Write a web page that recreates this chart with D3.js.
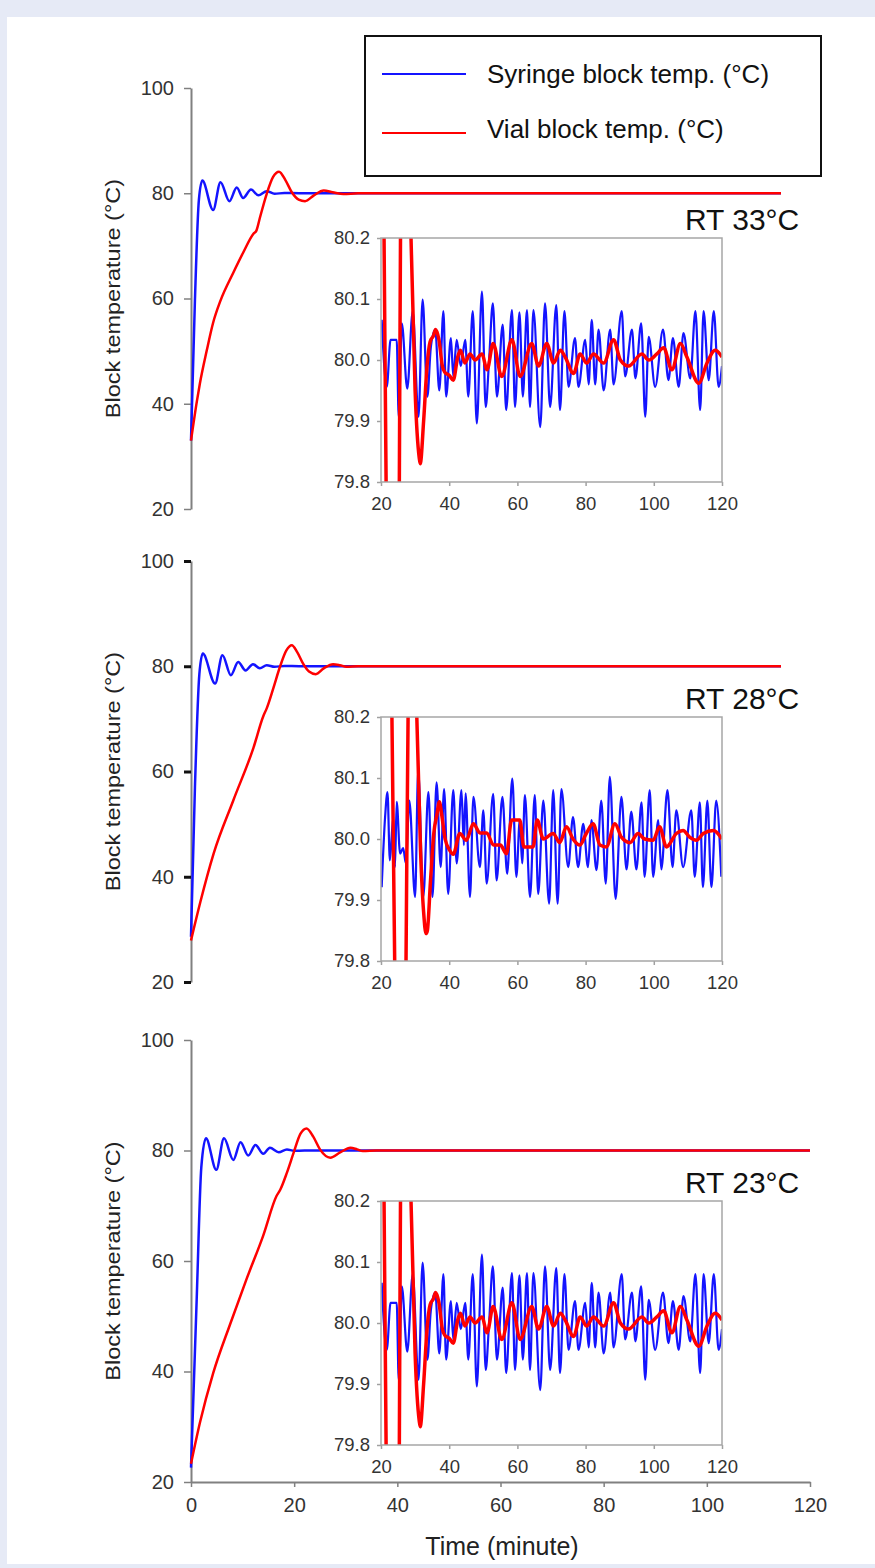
<!DOCTYPE html>
<html>
<head>
<meta charset="utf-8">
<script src="https://cdn.jsdelivr.net/npm/d3@7"></script>
<style>
  html, body { margin: 0; padding: 0; background: #e6eaf6; }
  svg { display: block; font-family: "Liberation Sans", Arial, sans-serif; }
</style>
</head>
<body>
<div id="chart"></div>
<script>
// ticks
const timeTicks = [0, 20, 40, 60, 80, 100, 120];
const tempTicks = [20, 40, 60, 80, 100];
const insetTimeTicks = [20, 40, 60, 80, 100, 120];
const insetTempTicks = [79.8, 79.9, 80.0, 80.1, 80.2];
const roomTemps = ["RT 33°C", "RT 28°C", "RT 23°C"];
const seriesNames = ["Syringe block temp. (°C)", "Vial block temp. (°C)"];

// main curves, [minute, °C]
const syringe33 = [[0,33],[0.8,59.7],[1.6,78.7],[2.3,82.4],[4.5,76.8],[6.0,82.1],[7.8,78.5],[9.3,81.1],[10.6,79.1],[12.2,80.7],[13.7,79.6],[15.4,80.4],[17,79.9],[19,80.05],[22,80],[120,80]];
const vial33 = [[0,33],[1.2,40.5],[1.8,43.8],[3.2,50.1],[4.5,55.4],[6.0,59.6],[8.6,64.9],[10.6,68.7],[12.7,72.3],[13.3,72.9],[14.0,75.3],[15.4,79.9],[16.7,83.1],[17.9,84.1],[19.2,82.5],[20.5,80.2],[21.9,78.8],[23.2,78.5],[25.0,79.6],[27.0,80.5],[28.8,80.2],[31.0,79.85],[34,80],[120,80]];
const syringe28 = [[0,28.6],[0.8,57],[1.7,78.5],[2.4,82.4],[4.9,76.7],[6.4,82.1],[8.1,78.3],[9.6,80.8],[11.1,79.2],[12.6,80.4],[14.0,79.6],[15.4,80.2],[17,79.9],[19,80.05],[22,80],[120,80]];
const vial28 = [[0,27.9],[1.9,35.2],[4.6,44.4],[8.6,54.5],[12.7,64.5],[14.7,70.5],[15.4,72.0],[16.8,76],[18.1,79.9],[19.4,83],[20.5,84.0],[21.6,82.7],[22.8,80.5],[24,79],[25.4,78.5],[27,79.6],[28.9,80.4],[30.3,80.2],[31.6,79.9],[34,80],[120,80]];
const syringe23 = [[0,22.6],[1.1,53],[2.0,77],[2.9,82.2],[4.9,76.5],[6.4,82.2],[8.2,78.3],[9.6,81.5],[11.1,79.1],[12.5,81.0],[14.0,79.4],[15.3,80.5],[17.0,79.7],[18.6,80.2],[20,79.95],[22,80],[120,80]];
const vial23 = [[0,23.3],[1.75,30.8],[4.3,39.7],[7.6,48.6],[10.8,56.8],[14.0,64.6],[16.6,71.8],[17.3,72.9],[18.6,76],[19.9,79.6],[21.2,83],[22.4,84.0],[23.7,82.5],[25.0,80.2],[27.0,78.7],[29,79.7],[30.9,80.5],[32.2,80.2],[33.3,79.9],[36,80],[120,80]];

// inset curves (20-120 min), [minute, °C]
const syringeInset33 = [[20.2,80.066],[21.7,79.956],[22.8,80.033],[24.6,80.033],[25.2,79.907],[26.1,80.06],[27.7,79.953],[29.3,80.08],[31.0,79.907],[32.2,80.099],[33.6,79.94],[34.6,80.02],[35.9,80.05],[37.1,79.95],[38.3,80.08],[39.1,79.94],[40.5,80.036],[41.2,79.973],[42.2,80.033],[43.4,79.99],[44.7,80.033],[45.6,79.94],[46.9,80.08],[48.1,79.896],[49.6,80.112],[50.7,79.923],[51.7,80.0],[52.8,80.093],[54.0,79.94],[55.7,80.058],[56.7,79.918],[58.4,80.082],[59.3,79.923],[60.6,80.078],[61.6,79.94],[62.8,80.082],[63.7,79.923],[64.7,80.082],[66.7,79.89],[68.1,80.093],[69.6,79.923],[71.4,80.09],[72.5,79.918],[73.8,80.08],[75.0,79.956],[76.9,80.036],[77.9,79.956],[79.9,80.033],[80.9,79.96],[81.8,80.066],[82.8,79.96],[83.8,80.05],[85.3,79.95],[87.2,80.05],[88.2,79.96],[90.6,80.08],[91.6,79.973],[93.6,80.05],[94.6,79.97],[96.3,80.06],[97.5,79.907],[98.5,80.038],[100.4,79.956],[102.7,80.05],[104.3,79.967],[105.6,80.036],[107.3,79.956],[108.7,80.044],[110.7,79.97],[112.2,80.08],[113.6,79.918],[114.6,80.08],[116.1,79.967],[117.6,80.08],[119.0,79.956],[120.0,79.99]];
const vialInset33 = [[20.0,80.75],[20.6,80.4],[21.8,79.6],[23.5,79.0],[25.3,79.7],[25.9,80.4],[27.5,80.6],[28.8,80.2],[30.0,79.95],[31.2,79.84],[31.5,79.83],[32.5,79.9],[33.5,79.99],[34.4,80.03],[35.4,80.04],[36.0,80.05],[37.0,80.033],[38.0,79.99],[38.7,79.98],[40.0,79.975],[41.2,79.967],[42.5,80.005],[43.3,80.016],[44.6,79.995],[46.1,80.01],[47.6,80.0],[49.6,80.01],[51.1,79.984],[52.9,80.027],[55.4,79.973],[58.4,80.033],[60.8,79.973],[64.2,80.027],[66.2,79.99],[68.6,80.027],[70.6,79.995],[72.6,80.016],[74.0,80.005],[76.5,79.978],[78.4,80.01],[80.3,79.995],[82.3,80.01],[85.3,79.995],[88.2,80.033],[90.2,80.0],[92.6,79.99],[96.5,80.01],[98.5,80.0],[100.9,80.01],[102.9,80.02],[105.3,79.984],[107.8,80.027],[109.7,80.005],[113.2,79.962],[115.6,79.995],[118.0,80.016],[120.0,80.005]];
const syringeInset28 = [[20.2,79.921],[21.2,80.036],[21.9,80.077],[22.6,79.965],[23.6,80.036],[24.1,79.954],[24.6,80.061],[25.6,79.976],[26.5,79.985],[27.3,79.96],[28.3,80.063],[30.0,79.905],[30.9,80.112],[32.4,79.905],[33.9,80.077],[35.1,79.905],[36.3,80.093],[37.5,79.954],[38.5,80.082],[39.7,79.91],[41.2,80.08],[42.2,79.96],[43.6,80.08],[44.3,79.99],[44.8,80.075],[46.1,79.905],[47.1,80.069],[49.0,79.954],[50.0,80.047],[51.0,79.927],[52.9,80.074],[53.9,79.932],[55.6,80.069],[57.0,79.943],[58.5,80.099],[59.7,79.938],[60.7,80.031],[61.4,79.96],[62.2,80.072],[63.7,79.905],[65.1,80.072],[66.1,79.91],[67.6,80.063],[69.3,79.894],[70.5,80.08],[71.8,79.894],[72.9,80.082],[74.9,79.954],[76.3,80.036],[77.8,79.954],[79.3,80.025],[80.7,79.954],[81.7,80.031],[83.2,79.949],[84.6,80.063],[85.9,79.927],[87.1,80.102],[88.8,79.902],[90.5,80.069],[92.0,79.95],[93.4,80.045],[94.9,79.95],[96.4,80.06],[97.3,79.938],[98.8,80.08],[99.8,79.938],[101.3,80.031],[102.2,79.95],[104.0,80.08],[105.5,79.954],[106.6,80.047],[108.6,79.954],[111.0,80.047],[112.0,79.938],[113.5,80.06],[114.4,79.921],[115.7,80.063],[116.9,79.921],[118.3,80.063],[119.8,79.938]];
const vialInset28 = [[20.0,81.2],[22.8,80.4],[24.4,79.6],[25.5,79.0],[27.2,79.7],[28.1,80.3],[29.5,80.5],[30.5,80.2],[31.6,79.98],[32.5,79.88],[33.2,79.845],[33.6,79.85],[34.5,79.93],[35.5,80.01],[36.4,80.04],[37.1,80.061],[37.8,80.04],[38.8,80.0],[40.2,79.981],[41.2,79.975],[43.1,80.009],[45.0,79.998],[47.1,80.025],[49.0,80.01],[51.0,80.01],[53.0,79.99],[55.0,79.99],[56.8,79.976],[58.3,80.031],[60.7,80.031],[61.9,79.987],[64.6,79.987],[65.8,80.031],[67.6,80.0],[70.5,80.009],[72.4,79.994],[74.4,80.02],[76.3,80.0],[78.3,79.99],[80.2,80.009],[82.2,80.025],[84.2,79.99],[86.1,79.987],[88.6,80.025],[90.5,80.003],[93.0,79.994],[95.4,80.009],[97.3,80.0],[99.8,79.998],[101.7,80.02],[103.7,79.987],[106.6,80.009],[108.6,80.014],[110.5,80.003],[112.5,79.998],[114.5,80.009],[117.5,80.014],[120.0,80.0]];
// the third inset in the figure repeats the first one
const syringeInset23 = syringeInset33;
const vialInset23 = vialInset33;

const width = 875, height = 1568;
const blue = "#1414ff", red = "#ff0000";
const labelFont = "'Liberation Sans', Arial, sans-serif";

const panels = [
  { top: 88, bottom: 509, xEnd: 781, syringe: syringe33, vial: vial33,
    sIn: syringeInset33, vIn: vialInset33, inset: [381, 238, 722, 482],
    label: roomTemps[0], labelY: 230, tickColor: "#808080", tickW: 1.5, xAxis: false },
  { top: 561, bottom: 982, xEnd: 781, syringe: syringe28, vial: vial28,
    sIn: syringeInset28, vIn: vialInset28, inset: [381, 717, 722, 961],
    label: roomTemps[1], labelY: 709, tickColor: "#111", tickW: 3, xAxis: false },
  { top: 1040, bottom: 1482, xEnd: 810, syringe: syringe23, vial: vial23,
    sIn: syringeInset23, vIn: vialInset23, inset: [381, 1201, 722, 1445],
    label: roomTemps[2], labelY: 1193, tickColor: "#808080", tickW: 1.5, xAxis: true }
];

const svg = d3.select("#chart").append("svg")
  .attr("width", width)
  .attr("height", height);

svg.append("rect").attr("width", width).attr("height", height).attr("fill", "#e6eaf6");
svg.append("rect").attr("x", 7).attr("y", 17).attr("width", width - 7).attr("height", 1547).attr("fill", "#fff");

const defs = svg.append("defs");

panels.forEach((p, i) => {
  const g = svg.append("g");
  const x = d3.scaleLinear().domain([0, 120]).range([191, p.xEnd]);
  const y = d3.scaleLinear().domain([20, 100]).range([p.bottom, p.top]);

  // y axis
  const ya = g.append("g")
    .attr("transform", "translate(191,0)")
    .call(d3.axisLeft(y).tickValues(tempTicks).tickSize(7).tickSizeOuter(0).tickPadding(10));
  ya.select(".domain").attr("stroke", "#808080").attr("stroke-width", 2);
  ya.selectAll(".tick line").attr("stroke", p.tickColor).attr("stroke-width", p.tickW);
  ya.selectAll(".tick text").attr("font-size", 20).attr("fill", "#333")
    .style("font-family", labelFont);

  if (p.xAxis) {
    const xa = g.append("g")
      .attr("transform", `translate(0,${p.bottom})`)
      .call(d3.axisBottom(x).tickValues(timeTicks).tickSize(5).tickSizeOuter(0).tickPadding(11));
    xa.select(".domain").attr("stroke", "#808080").attr("stroke-width", 2);
    xa.selectAll(".tick line").attr("stroke", "#808080").attr("stroke-width", 1.5);
    xa.selectAll(".tick text").attr("font-size", 20).attr("fill", "#333")
      .style("font-family", labelFont);
    g.append("text")
      .attr("x", 502).attr("y", 1555)
      .attr("text-anchor", "middle")
      .attr("font-size", 25).attr("fill", "#222")
      .text("Time (minute)");
  }

  // y title
  g.append("text")
    .attr("transform", `translate(113,${(p.top + p.bottom) / 2}) rotate(-90) scale(1.12,1)`)
    .attr("text-anchor", "middle")
    .attr("dy", "0.35em")
    .attr("font-size", 21).attr("fill", "#222")
    .text("Block temperature (°C)");

  const line = d3.line().x(d => x(d[0])).y(d => y(d[1])).curve(d3.curveMonotoneX);
  g.append("path").attr("d", line(p.syringe)).attr("fill", "none")
    .attr("stroke", blue).attr("stroke-width", 2.5);
  g.append("path").attr("d", line(p.vial)).attr("fill", "none")
    .attr("stroke", red).attr("stroke-width", 2.5);

  // RT label
  g.append("text")
    .attr("x", 685).attr("y", p.labelY)
    .attr("font-size", 30).attr("fill", "#111")
    .text(p.label);

  // inset
  const [ix0, iy0, ix1, iy1] = p.inset;
  const ix = d3.scaleLinear().domain([20, 120]).range([ix0, ix1]);
  const iy = d3.scaleLinear().domain([79.8, 80.2]).range([iy1, iy0]);
  const ig = g.append("g");

  ig.append("rect").attr("x", ix0).attr("y", iy0)
    .attr("width", ix1 - ix0).attr("height", iy1 - iy0).attr("fill", "#fff");

  defs.append("clipPath").attr("id", "clip" + i)
    .append("rect").attr("x", ix0).attr("y", iy0)
    .attr("width", ix1 - ix0).attr("height", iy1 - iy0);

  const iya = ig.append("g").attr("transform", `translate(${ix0},0)`)
    .call(d3.axisLeft(iy).tickValues(insetTempTicks).tickFormat(d3.format(".1f"))
      .tickSize(4).tickSizeOuter(0).tickPadding(7));
  const ixa = ig.append("g").attr("transform", `translate(0,${iy1})`)
    .call(d3.axisBottom(ix).tickValues(insetTimeTicks).tickSize(4).tickSizeOuter(0).tickPadding(11));
  [iya, ixa].forEach(a => {
    a.select(".domain").remove();
    a.selectAll(".tick line").attr("stroke", "#a0a0a0").attr("stroke-width", 1.5);
    a.selectAll(".tick text").attr("fill", "#333").attr("font-size", 18.5)
      .style("font-family", labelFont);
  });

  const iline = d3.line().x(d => ix(d[0])).y(d => iy(d[1])).curve(d3.curveMonotoneX);
  const lines = ig.append("g").attr("clip-path", `url(#clip${i})`);
  lines.append("path").attr("d", iline(p.sIn)).attr("fill", "none")
    .attr("stroke", blue).attr("stroke-width", 2.2);
  lines.append("path").attr("d", iline(p.vIn)).attr("fill", "none")
    .attr("stroke", red).attr("stroke-width", 3.5).attr("stroke-linejoin", "round");

  ig.append("rect").attr("x", ix0).attr("y", iy0)
    .attr("width", ix1 - ix0).attr("height", iy1 - iy0)
    .attr("fill", "none").attr("stroke", "#a6a6a6").attr("stroke-width", 1.5);
});

// legend
const lg = svg.append("g");
lg.append("rect").attr("x", 365).attr("y", 36).attr("width", 456).attr("height", 140)
  .attr("fill", "#fff").attr("stroke", "#111").attr("stroke-width", 2);
[[blue, 74, 83], [red, 133, 138]].forEach(([c, ly, ty], k) => {
  lg.append("line").attr("x1", 382).attr("x2", 466).attr("y1", ly).attr("y2", ly)
    .attr("stroke", c).attr("stroke-width", 2);
  lg.append("text").attr("x", 487).attr("y", ty)
    .attr("font-size", 26).attr("fill", "#111")
    .text(seriesNames[k]);
});
</script>
</body>
</html>
